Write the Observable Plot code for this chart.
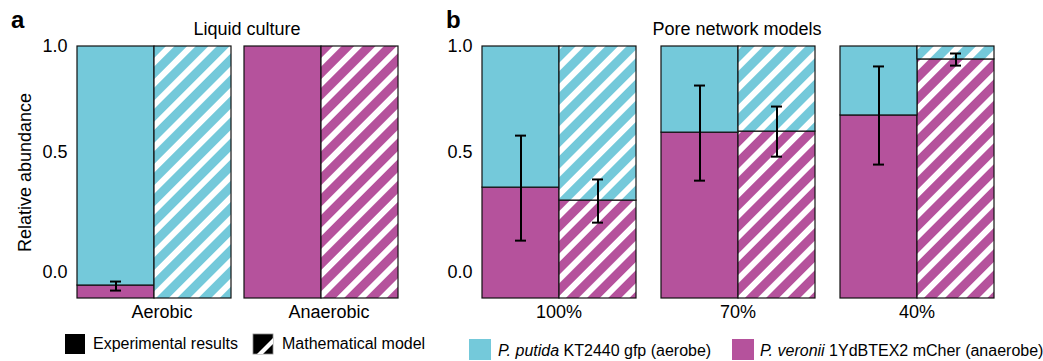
<!DOCTYPE html>
<html>
<head>
<meta charset="utf-8">
<script src="https://cdn.jsdelivr.net/npm/d3@7"></script>
<script src="https://cdn.jsdelivr.net/npm/@observablehq/plot@0.6"></script>
<style>
  body { margin: 0; background: #fff; }
  #root { position: relative; width: 1043px; height: 361px; overflow: hidden; font-family: "Liberation Sans", Arial, sans-serif; }
  #root > svg, #root > .plotwrap { position: absolute; top: 0; }
  .plotwrap svg { overflow: visible; }
</style>
</head>
<body>
<svg width="0" height="0" style="position:absolute">
  <defs>
    <pattern id="hatchCyan" patternUnits="userSpaceOnUse" width="15" height="15" patternTransform="rotate(45)">
      <rect width="15" height="15" fill="#74C9DA"></rect>
      <rect width="6" height="15" fill="#ffffff"></rect>
    </pattern>
    <pattern id="hatchMagenta" patternUnits="userSpaceOnUse" width="15" height="15" patternTransform="rotate(45)">
      <rect width="15" height="15" fill="#B5529C"></rect>
      <rect width="6" height="15" fill="#ffffff"></rect>
    </pattern>
  </defs>
</svg>
<div id="root"></div>
<script>
// ---------- colours ----------
const aerobeColor = "#74C9DA";
const anaerobeColor = "#B5529C";
const FONT = '"Liberation Sans", Arial, sans-serif';

// ---------- shared axis ----------
const yTicks = [0, 0.5, 1.0];
const yFloor = -0.108;           // bottom of every bar, as read on the axis
const methodDomain = ["Experimental", "Model"];
// the printed axis is not evenly spaced: piecewise mapping of axis value -> share of bar height
const yAxisValues = [yFloor, 0, 0.5, 1.0];
const yAxisShares = [0, 0.103, 0.579, 1.0];
const yWarp = d3.scaleLinear().domain(yAxisValues).range(yAxisShares);

// ---------- panel a: liquid culture ----------
const liquidConditions = ["Aerobic", "Anaerobic"];
const liquidCondition = ["Aerobic", "Aerobic", "Anaerobic", "Anaerobic"];
const liquidMethod = ["Experimental", "Model", "Experimental", "Model"];
const liquidAnaerobe = [-0.054, -0.108, 1.0, 1.0];      // top of P. veronii part
const liquidErrLow  = [-0.075, null, null, null];
const liquidErrHigh = [-0.0375, null, null, null];

// ---------- panel b: pore network models ----------
const poreSaturations = ["100%", "70%", "40%"];
const poreSaturation = ["100%", "100%", "70%", "70%", "40%", "40%"];
const poreMethod = ["Experimental", "Model", "Experimental", "Model", "Experimental", "Model"];
const poreAnaerobe = [0.354, 0.300, 0.594, 0.599, 0.675, 0.939];
const poreErrLow  = [0.133, 0.208, 0.383, 0.483, 0.450, 0.910];
const poreErrHigh = [0.580, 0.388, 0.816, 0.717, 0.906, 0.967];

function rowsOf(groups, methods, anaerobe, lo, hi) {
  return groups.map((g, i) => ({group: g, method: methods[i], anaerobe: anaerobe[i], lo: lo[i], hi: hi[i]}));
}
const liquidRows = rowsOf(liquidCondition, liquidMethod, liquidAnaerobe, liquidErrLow, liquidErrHigh);
const poreRows = rowsOf(poreSaturation, poreMethod, poreAnaerobe, poreErrLow, poreErrHigh);

function panel({rows, groups, width, marginLeft, marginRight, paddingInner, fxDx, yLabel}) {
  const exp = rows.filter(d => d.method === "Experimental");
  const mod = rows.filter(d => d.method === "Model");
  const err = rows.filter(d => d.lo != null);
  const marks = [
    Plot.axisY(yTicks, {tickFormat: d3.format(".1f"), tickSize: 0, tickPadding: 9,
      label: yLabel, labelAnchor: "center", labelArrow: false, labelOffset: 58}),
    Plot.axisFx({anchor: "bottom", tickSize: 0, tickPadding: 7, dx: fxDx, label: null}),
    // P. veronii (anaerobe) part, from the floor to the value
    Plot.barY(exp, {fx: "group", x: "method", y1: yFloor, y2: "anaerobe", fill: anaerobeColor, stroke: "#111", strokeWidth: 1.2}),
    Plot.barY(mod, {fx: "group", x: "method", y1: yFloor, y2: "anaerobe", fill: "url(#hatchMagenta)", stroke: "#111", strokeWidth: 1.2}),
    // P. putida (aerobe) part, from the value to 1
    Plot.barY(exp, {fx: "group", x: "method", y1: "anaerobe", y2: 1, fill: aerobeColor, stroke: "#111", strokeWidth: 1.2}),
    Plot.barY(mod, {fx: "group", x: "method", y1: "anaerobe", y2: 1, fill: "url(#hatchCyan)", stroke: "#111", strokeWidth: 1.2}),
    // error bars
    Plot.ruleX(err, {fx: "group", x: "method", y1: "lo", y2: "hi", stroke: "#000", strokeWidth: 2}),
    Plot.tickY(err, {fx: "group", x: "method", y: "lo", stroke: "#000", strokeWidth: 2, insetLeft: 33, insetRight: 33}),
    Plot.tickY(err, {fx: "group", x: "method", y: "hi", stroke: "#000", strokeWidth: 2, insetLeft: 33, insetRight: 33})
  ];
  return Plot.plot({
    width, height: 330,
    marginLeft, marginRight, marginTop: 46, marginBottom: 32,
    style: {fontFamily: FONT, fontSize: "18px", background: "transparent", color: "#000"},
    fx: {domain: groups, paddingInner, paddingOuter: 0, label: null, axis: null},
    x: {domain: methodDomain, padding: 0, axis: null},
    y: {transform: yWarp, domain: [0, 1], axis: null},
    marks
  });
}

const root = document.getElementById("root");

const wrapA = document.createElement("div");
wrapA.className = "plotwrap";
wrapA.style.left = "0px";
wrapA.appendChild(panel({rows: liquidRows, groups: liquidConditions, width: 410, marginLeft: 76, marginRight: 12,
  paddingInner: 0.072, fxDx: 8, yLabel: "Relative abundance"}));
root.appendChild(wrapA);

const wrapB = document.createElement("div");
wrapB.className = "plotwrap";
wrapB.style.left = "430px";
wrapB.appendChild(panel({rows: poreRows, groups: poreSaturations, width: 613, marginLeft: 50, marginRight: 49,
  paddingInner: 0.1365, fxDx: 0, yLabel: null}));
root.appendChild(wrapB);

// ---------- annotations: panel letters, titles, legends ----------
const ov = d3.select(root).append("svg")
  .attr("width", 1043).attr("height", 361)
  .style("left", "0px").style("pointer-events", "none")
  .style("font-family", FONT);

ov.append("text").attr("x", 11).attr("y", 28).attr("font-size", 24).attr("font-weight", "bold").text("a");
ov.append("text").attr("x", 446).attr("y", 28).attr("font-size", 24).attr("font-weight", "bold").text("b");
ov.append("text").attr("x", 247).attr("y", 35).attr("font-size", 18).attr("text-anchor", "middle").text("Liquid culture");
ov.append("text").attr("x", 737).attr("y", 35).attr("font-size", 18).attr("text-anchor", "middle").text("Pore network models");

// legend a
ov.append("rect").attr("x", 65).attr("y", 334).attr("width", 20).attr("height", 20).attr("fill", "#000");
ov.append("text").attr("x", 93).attr("y", 349).attr("font-size", 16).text("Experimental results");
const hs = ov.append("g").attr("transform", "translate(253,334)");
hs.append("rect").attr("width", 20).attr("height", 20).attr("fill", "#000").attr("stroke", "#888").attr("stroke-width", 0.8);
hs.append("polygon").attr("points", "4,20 10,20 20,10 20,4").attr("fill", "#fff");
ov.append("text").attr("x", 282).attr("y", 349).attr("font-size", 16).text("Mathematical model");

// legend b
ov.append("rect").attr("x", 469).attr("y", 339).attr("width", 22).attr("height", 21).attr("fill", aerobeColor);
const t1 = ov.append("text").attr("x", 498).attr("y", 356).attr("font-size", 16);
t1.append("tspan").attr("font-style", "italic").text("P. putida");
t1.append("tspan").text(" KT2440 gfp (aerobe)");
ov.append("rect").attr("x", 732).attr("y", 339).attr("width", 22).attr("height", 21).attr("fill", anaerobeColor);
const t2 = ov.append("text").attr("x", 760).attr("y", 356).attr("font-size", 16);
t2.append("tspan").attr("font-style", "italic").text("P. veronii");
t2.append("tspan").text(" 1YdBTEX2 mCher (anaerobe)");
</script>
</body>
</html>
